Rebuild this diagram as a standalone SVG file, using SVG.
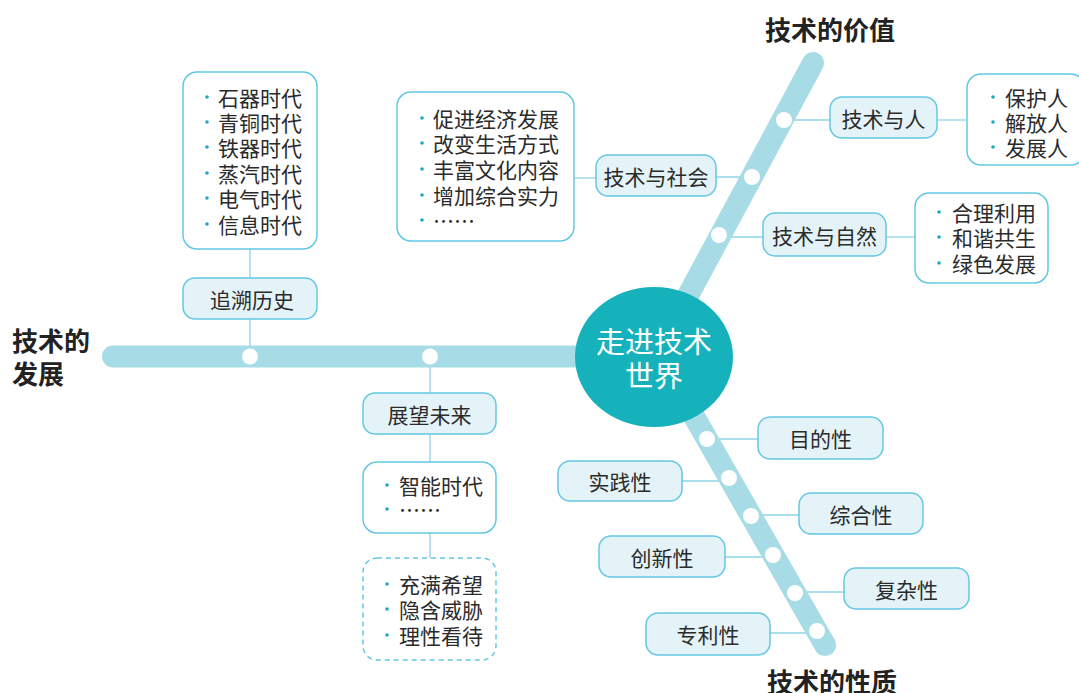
<svg xmlns="http://www.w3.org/2000/svg" width="1079" height="693" viewBox="0 0 1079 693">
<style>
text{font-family:"Noto Sans CJK SC","Noto Sans",sans-serif;fill:#2b2b2b;dominant-baseline:central}
.lbl{font-size:21px;text-anchor:middle}
.item{font-size:21px}
.head{font-size:26px;font-weight:bold;fill:#222}
.ctr{font-size:29px;fill:#fff;text-anchor:middle}
.node{fill:#e4f3f8;stroke:#63c7e4;stroke-width:1.5}
.list{fill:#fff;stroke:#63c7e4;stroke-width:1.5}
.dash{fill:#fff;stroke:#63c7e4;stroke-width:1.5;stroke-dasharray:5 4}
.bar{stroke:#a7dce7;stroke-width:22;stroke-linecap:round;fill:none}
.dot{fill:#fff}
.b{fill:#1ba6c4}
#connectors line{stroke:#8fd4e6;stroke-width:1.3}
</style>

<g id="connectors">
<line x1="250" y1="249" x2="250" y2="278"/>
<line x1="250" y1="319" x2="250" y2="356"/>
<line x1="574" y1="178" x2="596" y2="178"/>
<line x1="716" y1="177" x2="751" y2="177"/>
<line x1="785" y1="120" x2="830" y2="120"/>
<line x1="937" y1="120" x2="967" y2="120"/>
<line x1="718" y1="237" x2="763" y2="237"/>
<line x1="886" y1="237" x2="915" y2="237"/>
<line x1="707" y1="439" x2="758" y2="439"/>
<line x1="682" y1="481" x2="729" y2="481"/>
<line x1="751" y1="515" x2="799" y2="515"/>
<line x1="725" y1="557" x2="773" y2="557"/>
<line x1="795" y1="592" x2="844" y2="592"/>
<line x1="770" y1="633" x2="817" y2="633"/>
<line x1="430" y1="356" x2="430" y2="393"/>
<line x1="430" y1="434" x2="430" y2="462"/>
<line x1="430" y1="533" x2="430" y2="558"/>
</g>

<g id="spines">
<line class="bar" x1="113" y1="356.5" x2="620" y2="356.5"/>
<line class="bar" x1="655" y1="357" x2="813" y2="63"/>
<line class="bar" x1="660" y1="357" x2="825" y2="645"/>
<circle class="dot" cx="250" cy="356.5" r="8"/>
<circle class="dot" cx="430" cy="356.5" r="8"/>
<circle class="dot" cx="784" cy="120" r="8"/>
<circle class="dot" cx="752" cy="177" r="8"/>
<circle class="dot" cx="719" cy="235" r="8"/>
<circle class="dot" cx="707" cy="439" r="8"/>
<circle class="dot" cx="729" cy="478" r="8"/>
<circle class="dot" cx="751" cy="516" r="8"/>
<circle class="dot" cx="773" cy="555" r="8"/>
<circle class="dot" cx="795" cy="593" r="8"/>
<circle class="dot" cx="817" cy="631" r="8"/>
</g>

<g id="center">
<ellipse cx="654" cy="357" rx="79" ry="70" fill="#16b2bc"/>
<text class="ctr" x="654" y="340">走进技术</text>
<text class="ctr" x="654" y="374">世界</text>
</g>

<g id="heading-value"><text class="head" x="765" y="28">技术的价值</text></g>
<g id="heading-dev"><text class="head" x="12" y="339">技术的</text><text class="head" x="12" y="372">发展</text></g>
<g id="heading-nature"><text class="head" x="767" y="680">技术的性质</text></g>

<g id="history-list">
<rect class="list" x="183" y="72" width="134" height="177" rx="14"/>
<circle class="b" cx="207" cy="97" r="1.8"/><text class="item" x="218" y="97">石器时代</text>
<circle class="b" cx="207" cy="122" r="1.8"/><text class="item" x="218" y="122">青铜时代</text>
<circle class="b" cx="207" cy="147" r="1.8"/><text class="item" x="218" y="147">铁器时代</text>
<circle class="b" cx="207" cy="173" r="1.8"/><text class="item" x="218" y="173">蒸汽时代</text>
<circle class="b" cx="207" cy="198" r="1.8"/><text class="item" x="218" y="198">电气时代</text>
<circle class="b" cx="207" cy="224" r="1.8"/><text class="item" x="218" y="224">信息时代</text>
</g>
<g id="history"><rect class="node" x="183" y="278" width="134" height="41" rx="12"/><text class="lbl" x="252" y="298.5">追溯历史</text></g>

<g id="society-list">
<rect class="list" x="397" y="92" width="177" height="149" rx="14"/>
<circle class="b" cx="422" cy="118" r="1.8"/><text class="item" x="433" y="118">促进经济发展</text>
<circle class="b" cx="422" cy="143" r="1.8"/><text class="item" x="433" y="143">改变生活方式</text>
<circle class="b" cx="422" cy="169" r="1.8"/><text class="item" x="433" y="169">丰富文化内容</text>
<circle class="b" cx="422" cy="195" r="1.8"/><text class="item" x="433" y="195">增加综合实力</text>
<circle class="b" cx="422" cy="220" r="1.8"/><text class="item" x="433" y="220">……</text>
</g>
<g id="society"><rect class="node" x="596" y="155" width="120" height="41" rx="12"/><text class="lbl" x="656" y="175.5">技术与社会</text></g>

<g id="human"><rect class="node" x="830" y="97" width="107" height="41" rx="12"/><text class="lbl" x="883.5" y="117.5">技术与人</text></g>
<g id="human-list">
<rect class="list" x="967" y="74" width="118" height="91" rx="14"/>
<circle class="b" cx="993" cy="97" r="1.8"/><text class="item" x="1005" y="97">保护人</text>
<circle class="b" cx="993" cy="122" r="1.8"/><text class="item" x="1005" y="122">解放人</text>
<circle class="b" cx="993" cy="147" r="1.8"/><text class="item" x="1005" y="147">发展人</text>
</g>

<g id="nature"><rect class="node" x="763" y="213" width="123" height="43" rx="12"/><text class="lbl" x="824.5" y="234.5">技术与自然</text></g>
<g id="nature-list">
<rect class="list" x="915" y="193" width="133" height="90" rx="14"/>
<circle class="b" cx="939" cy="212" r="1.8"/><text class="item" x="952" y="212">合理利用</text>
<circle class="b" cx="939" cy="237" r="1.8"/><text class="item" x="952" y="237">和谐共生</text>
<circle class="b" cx="939" cy="263" r="1.8"/><text class="item" x="952" y="263">绿色发展</text>
</g>

<g id="purpose"><rect class="node" x="758" y="417" width="125" height="42" rx="12"/><text class="lbl" x="820.5" y="438">目的性</text></g>
<g id="practice"><rect class="node" x="558" y="461" width="124" height="40" rx="12"/><text class="lbl" x="620" y="481">实践性</text></g>
<g id="synthesis"><rect class="node" x="799" y="493" width="124" height="41" rx="12"/><text class="lbl" x="861" y="513.5">综合性</text></g>
<g id="innovation"><rect class="node" x="599" y="536" width="126" height="41" rx="12"/><text class="lbl" x="662" y="556.5">创新性</text></g>
<g id="complexity"><rect class="node" x="844" y="568" width="125" height="41" rx="12"/><text class="lbl" x="906.5" y="588.5">复杂性</text></g>
<g id="patent"><rect class="node" x="646" y="613" width="124" height="42" rx="12"/><text class="lbl" x="708" y="634">专利性</text></g>

<g id="future"><rect class="node" x="363" y="393" width="133" height="41" rx="12"/><text class="lbl" x="429.5" y="413.5">展望未来</text></g>
<g id="future-list">
<rect class="list" x="363" y="462" width="133" height="71" rx="14"/>
<circle class="b" cx="387" cy="485" r="1.8"/><text class="item" x="399" y="485">智能时代</text>
<circle class="b" cx="387" cy="509" r="1.8"/><text class="item" x="399" y="509">……</text>
</g>
<g id="future-attitude">
<rect class="dash" x="363" y="558" width="133" height="102" rx="14"/>
<circle class="b" cx="387" cy="584" r="1.8"/><text class="item" x="399" y="584">充满希望</text>
<circle class="b" cx="387" cy="609" r="1.8"/><text class="item" x="399" y="609">隐含威胁</text>
<circle class="b" cx="387" cy="635" r="1.8"/><text class="item" x="399" y="635">理性看待</text>
</g>
</svg>
